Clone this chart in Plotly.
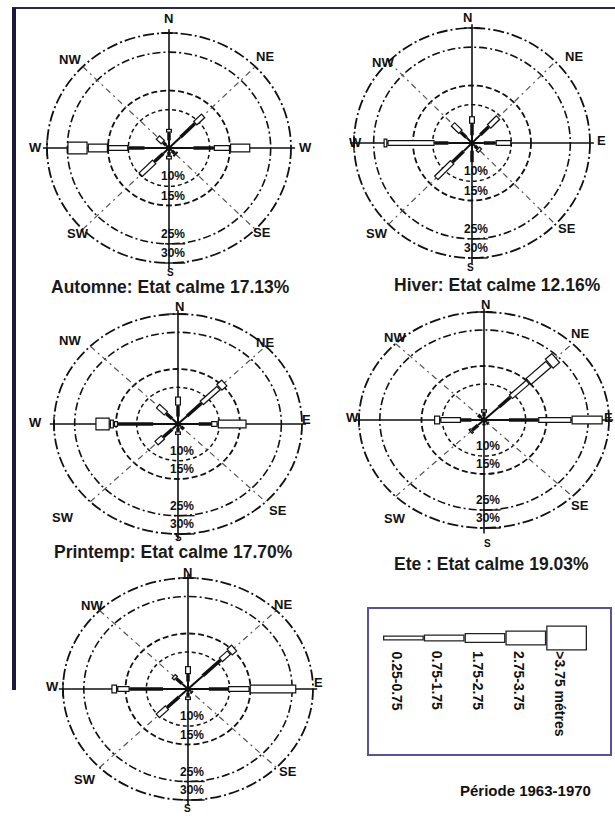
import math
import plotly.graph_objects as go

# ---------------- DATA ----------------
DIRECTIONS = ["N", "NE", "E", "SE", "S", "SW", "W", "NW"]
BEARINGS = [0, 45, 90, 135, 180, 225, 270, 315]
HEIGHT_CLASSES = ["0.25-0.75", "0.75-1.75", "1.75-2.75", "2.75-3.75", ">3.75 métres"]
RING_PCTS = [10, 15, 25, 30]
RING_LABELS = ["10%", "15%", "25%", "30%"]

# frequency (%) : rows = DIRECTIONS order, columns = HEIGHT_CLASSES order
automne = [
    [2, 2, 1, 0, 0],
    [4, 5, 3, 0, 0],
    [6, 5, 4, 5, 0],
    [1, 1, 0.5, 0, 0],
    [1, 1, 1, 0, 0],
    [2, 3, 5, 0, 0],
    [6, 4, 5, 5, 5],
    [1, 1, 2, 0, 0],
]
hiver = [
    [2, 3, 2, 0, 0],
    [3, 3, 3.5, 0, 0],
    [3, 3, 4, 0, 0],
    [1, 1, 1, 0, 0],
    [2, 3, 0, 0, 0],
    [3, 4, 6, 0, 0],
    [6, 3.5, 12, 1, 0],
    [2, 2, 3, 0, 0],
]
printemps = [
    [2, 3, 2.5, 0, 0],
    [3, 5, 6, 2, 0],
    [5, 3, 1.6, 7, 0],
    [1, 1, 0, 0, 0],
    [1, 1, 1, 0, 0],
    [2, 3, 2.5, 0, 0],
    [6, 8.5, 1, 1, 3.5],
    [2, 2, 3, 0, 0],
]
ete = [
    [1, 1, 1, 0, 0],
    [5, 4, 6, 7, 2.5],
    [6, 7, 8, 7.5, 0],
    [1, 0.5, 0, 0, 0],
    [1, 0.5, 0, 0, 0],
    [2, 2, 0.7, 0, 0],
    [3, 2.5, 5, 1.5, 0],
    [1, 1, 0, 0, 0],
]
annuel = [
    [2, 2, 2.2, 0, 0],
    [5, 6, 3, 1.8, 0],
    [5, 4.6, 5.2, 11.2, 0],
    [1, 0.5, 0, 0, 0],
    [1, 1, 1, 0, 0],
    [3, 4, 3.4, 0, 0],
    [6, 8, 3, 1.4, 0],
    [2, 2, 1, 0, 0],
]
SEASONS = [automne, hiver, printemps, ete, annuel]
TITLES = ["Automne: Etat calme 17.13%", "Hiver: Etat calme 12.16%",
          "Printemp: Etat calme 17.70%", "Ete : Etat calme 19.03%", ""]
COMPASS_TEXT = [
    ["N", "NE", "W", "SE", "S", "SW", "W", "NW"],
    ["N", "NE", "E", "SE", "S", "SW", "W", "NW"],
    ["N", "NE", "E", "SE", "S", "SW", "W", "NW"],
    ["N", "NE", "E", "SE", "S", "SW", "W", "NW"],
    ["N", "NE", "E", "SE", "S", "SW", "W", "NW"],
]
PERIOD = "Période 1963-1970"

# ---------------- GEOMETRY / STYLE ----------------
W, H = 615, 816
ROSES = [
    dict(cx=169, cy=148, rx=122, ry=115, title=(170, 287),
         lab=[(168, 18), (265, 57), (305, 147), (262, 232), (170, 273), (78, 233), (35, 147), (70, 60)]),
    dict(cx=472, cy=143, rx=118, ry=115, title=(497, 285),
         lab=[(467, 17), (574, 57), (601, 140), (567, 228), (470, 268), (377, 233), (355, 142), (383, 63)]),
    dict(cx=178, cy=424, rx=124, ry=110, title=(174, 552),
         lab=[(179, 306), (265, 342), (306, 420), (278, 510), (178, 537), (63, 517), (35, 422), (70, 340)]),
    dict(cx=484, cy=420, rx=125, ry=108, title=(491, 564),
         lab=[(485, 304), (580, 333), (608, 418), (580, 505), (487, 543), (395, 518), (352, 418), (395, 337)]),
    dict(cx=188, cy=689, rx=125, ry=111, title=None,
         lab=[(187, 572), (283, 604), (318, 682), (288, 771), (188, 808), (85, 779), (52, 686), (92, 605)]),
]
OUTER = 30.0
CLASS_W = [2, 3.5, 6, 9, 13]
CLASS_INNER = [0, 0, 3.5, 6.5, 10.5]
RING_STYLE = {10: ("4px,3px", 1.5), 15: ("6px,3px", 1.8),
              25: ("8px,3px,2px,3px", 1.6), 30: ("11px,3px,2px,3px", 1.8)}
INK = "#111111"
FONT = "Liberation Sans"


def px(x):
    return x / W


def py(y):
    return 1 - y / H


fig = go.Figure()
shapes = []
annotations = []
layout_axes = {}


def bold(t):
    return "<b>" + t + "</b>"


for i, (rose, data) in enumerate(zip(ROSES, SEASONS)):
    n = "" if i == 0 else str(i + 1)
    xa, ya = "x" + n, "y" + n
    cx, cy = rose["cx"], rose["cy"]
    sx, sy = rose["rx"] / OUTER, rose["ry"] / OUTER
    x0, x1 = max(0, cx - rose["rx"] - 10), min(W, cx + rose["rx"] + 10)
    y0, y1 = max(0, cy - rose["ry"] - 10), min(H, cy + rose["ry"] + 10)
    layout_axes["xaxis" + n] = dict(domain=[px(x0), px(x1)], range=[(x0 - cx) / sx, (x1 - cx) / sx],
                                    visible=False, fixedrange=True, anchor=ya)
    layout_axes["yaxis" + n] = dict(domain=[py(y1), py(y0)], range=[(cy - y1) / sy, (cy - y0) / sy],
                                    visible=False, fixedrange=True, anchor=xa)

    # rings
    for r in RING_PCTS:
        dash, lw = RING_STYLE[r]
        shapes.append(dict(type="circle", xref=xa, yref=ya, x0=-r, x1=r, y0=-r, y1=r,
                           line=dict(color=INK, width=lw, dash=dash), layer="below"))
    # diagonals
    for b in (45, 135):
        s, c = math.sin(math.radians(b)), math.cos(math.radians(b))
        shapes.append(dict(type="line", xref=xa, yref=ya, x0=-OUTER * s, y0=-OUTER * c,
                           x1=OUTER * s, y1=OUTER * c,
                           line=dict(color="#555555", width=1.2, dash="6px,4px,2px,4px"), layer="below"))
    # main axes
    shapes.append(dict(type="line", xref=xa, yref=ya, x0=0, x1=0, y0=-31.5, y1=31,
                       line=dict(color=INK, width=1.6), layer="below"))
    shapes.append(dict(type="line", xref=xa, yref=ya, x0=-31, x1=31, y0=0, y1=0,
                       line=dict(color=INK, width=1.6), layer="below"))
    # ticks
    for (tx0, tx1, ty0, ty1) in [(-2, 2, 30, 30), (-1, 4, -25, -25), (-1, 4, -30, -30), (-30, -30, -2, 2)]:
        shapes.append(dict(type="line", xref=xa, yref=ya, x0=tx0, x1=tx1, y0=ty0, y1=ty1,
                           line=dict(color=INK, width=1.4), layer="below"))

    # bars
    for k in range(len(HEIGHT_CLASSES)):
        ox, oy, ix, iy = [], [], [], []
        for d, b in enumerate(BEARINGS):
            v = data[d][k]
            if v <= 0:
                continue
            s0 = sum(data[d][:k])
            s1 = s0 + v
            sn, cs = math.sin(math.radians(b)), math.cos(math.radians(b))
            ox += [s0 * sn, s1 * sn, None]
            oy += [s0 * cs, s1 * cs, None]
            pix = math.hypot(sx * sn, sy * cs)
            dl = 1.2 / pix
            if CLASS_INNER[k] > 0 and v > 2 * dl:
                ix += [(s0 + dl) * sn, (s1 - dl) * sn, None]
                iy += [(s0 + dl) * cs, (s1 - dl) * cs, None]
        if ox:
            fig.add_trace(go.Scatter(x=ox, y=oy, mode="lines", xaxis=xa, yaxis=ya,
                                     line=dict(color=INK, width=CLASS_W[k]), hoverinfo="skip",
                                     showlegend=False))
        if ix:
            fig.add_trace(go.Scatter(x=ix, y=iy, mode="lines", xaxis=xa, yaxis=ya,
                                     line=dict(color="white", width=CLASS_INNER[k]), hoverinfo="skip",
                                     showlegend=False))

    # compass labels
    for j, ((lx, ly), t) in enumerate(zip(rose["lab"], COMPASS_TEXT[i])):
        annotations.append(dict(x=px(lx), y=py(ly), xref="paper", yref="paper", text=bold(t),
                                showarrow=False, font=dict(family=FONT, size=10 if j == 4 else 13, color=INK),
                                xanchor="center", yanchor="middle"))
    # ring labels
    for r, t in zip(RING_PCTS, RING_LABELS):
        annotations.append(dict(x=px(cx + 4), y=py(cy + r * sy - 1), xref="paper", yref="paper",
                                text=bold(t), showarrow=False,
                                font=dict(family=FONT, size=12, color=INK),
                                xanchor="center", yanchor="bottom"))
    if rose["title"]:
        tx, ty = rose["title"]
        annotations.append(dict(x=px(tx), y=py(ty), xref="paper", yref="paper",
                                text=bold(TITLES[i]), showarrow=False,
                                font=dict(family=FONT, size=17.5, color="#1a1a1a"),
                                xanchor="center", yanchor="middle"))

# ---------------- LEGEND (key) ----------------
LX0, LX1, LYC = 383, 587, 638
layout_axes["xaxis6"] = dict(domain=[px(LX0), px(LX1)], range=[0, len(HEIGHT_CLASSES)],
                             visible=False, fixedrange=True, anchor="y6")
layout_axes["yaxis6"] = dict(domain=[py(LYC + 20), py(LYC - 20)], range=[-1, 1],
                             visible=False, fixedrange=True, anchor="x6")
LEG_W = [5, 7, 10, 15, 25]
unit = (LX1 - LX0) / len(HEIGHT_CLASSES)
for k, name in enumerate(HEIGHT_CLASSES):
    fig.add_trace(go.Scatter(x=[k, k + 1], y=[0, 0], mode="lines", xaxis="x6", yaxis="y6",
                             line=dict(color="#222222", width=LEG_W[k]), hoverinfo="skip", showlegend=False))
    dl = 1.3 / unit
    fig.add_trace(go.Scatter(x=[k + dl, k + 1 - dl], y=[0, 0], mode="lines", xaxis="x6", yaxis="y6",
                             line=dict(color="white", width=LEG_W[k] - 2.6), hoverinfo="skip",
                             showlegend=False))
    annotations.append(dict(x=px(LX0 + unit * k + 14), y=py(649), xref="paper", yref="paper",
                            text=bold(name), textangle=90, showarrow=False,
                            font=dict(family=FONT, size=14, color=INK),
                            xanchor="center", yanchor="top"))

# legend frame
shapes.append(dict(type="rect", xref="paper", yref="paper", x0=px(368), x1=px(611),
                   y0=py(755), y1=py(608), line=dict(color="#5a4fa0", width=2)))
# page frame
shapes.append(dict(type="line", xref="paper", yref="paper", x0=px(12), x1=px(615), y0=py(8), y1=py(8),
                   line=dict(color="#2b2550", width=2)))
shapes.append(dict(type="rect", xref="paper", yref="paper", x0=px(12), x1=px(16), y0=py(690), y1=py(8),
                   line=dict(width=0), fillcolor="#1c1840"))

annotations.append(dict(x=px(525), y=py(790), xref="paper", yref="paper", text=bold(PERIOD),
                        showarrow=False, font=dict(family=FONT, size=15, color=INK),
                        xanchor="center", yanchor="middle"))

fig.update_layout(width=W, height=H, margin=dict(l=0, r=0, t=0, b=0),
                  paper_bgcolor="white", plot_bgcolor="rgba(0,0,0,0)",
                  shapes=shapes, annotations=annotations, showlegend=False, **layout_axes)
fig.write_html("out.html")
